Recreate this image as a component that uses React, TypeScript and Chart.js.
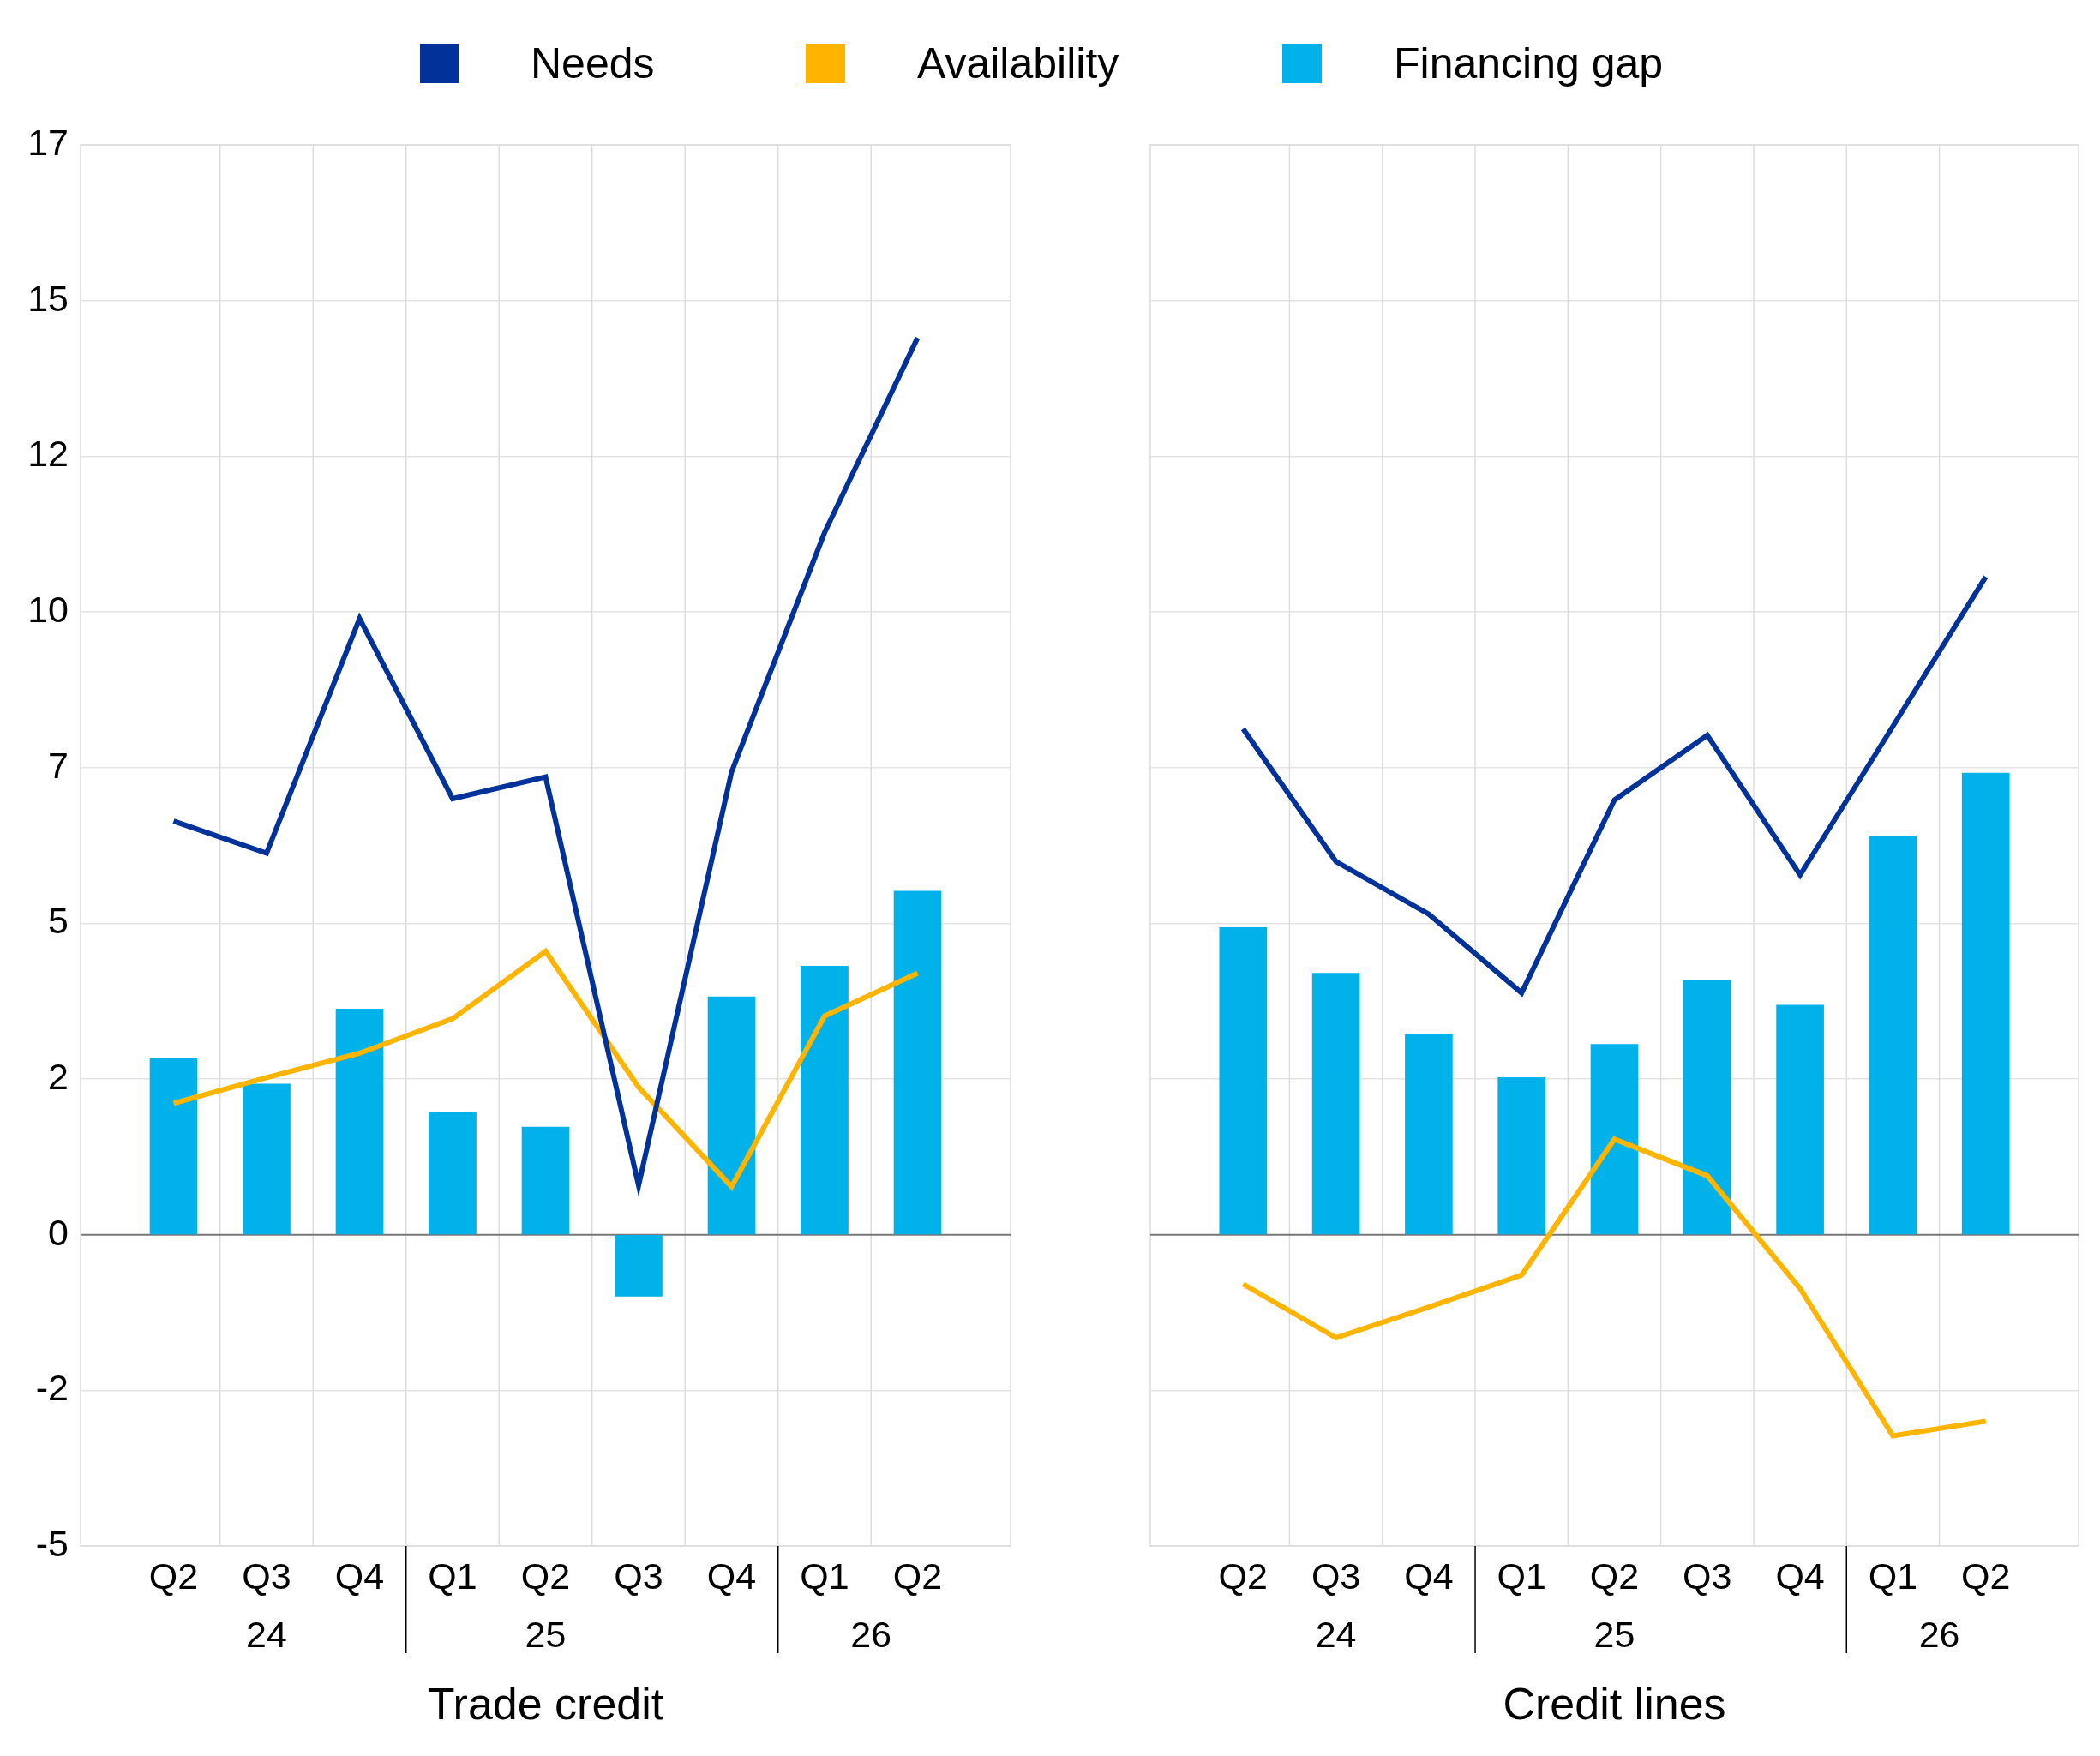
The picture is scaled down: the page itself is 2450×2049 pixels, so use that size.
import React, { useEffect, useRef } from "react";
import { Chart, registerables } from "chart.js";
Chart.register(...registerables);

const quarters = ["Q2", "Q3", "Q4", "Q1", "Q2", "Q3", "Q4", "Q1", "Q2"];
const years = [
  { label: "24", pos: 2 },
  { label: "25", pos: 5 },
  { label: "26", pos: 8.5 },
];
const dividers = [3.5, 7.5];

const tradeNeeds = [6.45, 5.95, 9.61, 6.8, 7.14, 0.77, 7.22, 10.95, 13.99];
const tradeAvail = [2.05, 2.45, 2.83, 3.37, 4.42, 2.3, 0.75, 3.41, 4.08];
const tradeGap = [2.76, 2.35, 3.52, 1.91, 1.68, -0.96, 3.71, 4.19, 5.36];

const lineNeeds = [7.89, 5.82, 5.0, 3.77, 6.78, 7.79, 5.61, 7.93, 10.26];
const lineAvail = [-0.77, -1.61, -1.13, -0.63, 1.49, 0.92, -0.84, -3.14, -2.91];
const lineGap = [4.79, 4.08, 3.12, 2.45, 2.97, 3.96, 3.58, 6.22, 7.2];

const C_NEEDS = "#003299";
const C_AVAIL = "#FFB400";
const C_GAP = "#00B1EA";
const FONT = "'Liberation Sans', Arial, sans-serif";
const STEP = 17 / 7;

function pts(vals: number[]) {
  return vals.map((v, i) => ({ x: i + 1, y: v }));
}

function makeChart(canvas: HTMLCanvasElement, title: string, needs: number[], avail: number[], gap: number[], showY: boolean, yWidth: number, padRight: number) {
  const deco = {
    id: "deco",
    beforeDatasetsDraw(chart: any) {
      const { ctx, chartArea: a, scales } = chart;
      const x = scales.x;
      ctx.save();
      ctx.strokeStyle = "#dddddd";
      ctx.lineWidth = 1.5;
      for (let g = 1.5; g <= 8.5; g += 1) {
        const px = x.getPixelForValue(g);
        ctx.beginPath();
        ctx.moveTo(px, a.top);
        ctx.lineTo(px, a.bottom);
        ctx.stroke();
      }
      ctx.strokeRect(a.left, a.top, a.right - a.left, a.bottom - a.top);
      const y0 = scales.y.getPixelForValue(0);
      ctx.strokeStyle = "#777777";
      ctx.lineWidth = 2;
      ctx.beginPath();
      ctx.moveTo(a.left, y0);
      ctx.lineTo(a.right, y0);
      ctx.stroke();
      ctx.restore();
    },
    afterDraw(chart: any) {
      const { ctx, chartArea: a, scales } = chart;
      const x = scales.x;
      ctx.save();
      ctx.strokeStyle = "#000";
      ctx.lineWidth = 1.5;
      dividers.forEach((d) => {
        const px = x.getPixelForValue(d);
        ctx.beginPath();
        ctx.moveTo(px, a.bottom);
        ctx.lineTo(px, 1929);
        ctx.stroke();
      });
      ctx.fillStyle = "#000";
      ctx.textAlign = "center";
      ctx.textBaseline = "middle";
      ctx.font = `43px ${FONT}`;
      years.forEach((yr) => ctx.fillText(yr.label, x.getPixelForValue(yr.pos), 1910));
      ctx.font = `52px ${FONT}`;
      ctx.fillText(title, x.getPixelForValue(5), 1992);
      ctx.restore();
    },
  };
  return new Chart(canvas, {
    type: "bar",
    data: {
      datasets: [
        { type: "line", label: "Needs", data: pts(needs), borderColor: C_NEEDS, borderWidth: 6, pointRadius: 0, tension: 0, order: 1 } as any,
        { type: "line", label: "Availability", data: pts(avail), borderColor: C_AVAIL, borderWidth: 6, pointRadius: 0, tension: 0, order: 2 } as any,
        { type: "bar", label: "Financing gap", data: pts(gap), backgroundColor: C_GAP, barThickness: 55, order: 3 } as any,
      ],
    },
    options: {
      animation: false,
      responsive: false,
      maintainAspectRatio: false,
      layout: { padding: { top: 169, right: padRight, left: 0, bottom: 0 } },
      plugins: { legend: { display: false }, tooltip: { enabled: false } },
      scales: {
        x: {
          type: "linear",
          min: 0,
          max: 10,
          offset: false,
          grid: { display: false, drawTicks: false, offset: false },
          border: { display: false },
          afterBuildTicks: (s: any) => { s.ticks = quarters.map((_, i) => ({ value: i + 1 })); },
          afterFit: (s: any) => { s.height = 2049 - 1804; },
          ticks: {
            padding: 12,
            color: "#000",
            font: { family: FONT, size: 43 },
            callback: (v: any) => quarters[Math.round(v) - 1] ?? "",
            maxRotation: 0,
            autoSkip: false,
          },
        },
        y: {
          min: -2 * STEP,
          max: 17,
          grid: { color: (c: any) => (Math.abs(c.tick?.value) < 1e-6 ? "rgba(0,0,0,0)" : "#e4e4e4"), lineWidth: 1.5, drawTicks: false },
          border: { display: false },
          afterBuildTicks: (s: any) => {
            const t = [];
            for (let k = -2; k <= 7; k++) t.push({ value: k * STEP });
            s.ticks = t;
          },
          afterFit: (s: any) => { s.width = yWidth; },
          ticks: {
            display: showY,
            padding: 14,
            color: "#000",
            font: { family: FONT, size: 43 },
            callback: (v: any) => String(Math.round(v)),
          },
        },
      },
    },
    plugins: [deco],
  } as any);
}

export default function App() {
  const leftRef = useRef<HTMLCanvasElement>(null);
  const rightRef = useRef<HTMLCanvasElement>(null);
  useEffect(() => {
    document.body.style.margin = "0";
    const a = makeChart(leftRef.current!, "Trade credit", tradeNeeds, tradeAvail, tradeGap, true, 94, 46);
    const b = makeChart(rightRef.current!, "Credit lines", lineNeeds, lineAvail, lineGap, false, 117, 25);
    return () => { a.destroy(); b.destroy(); };
  }, []);
  const legend = [
    { label: "Needs", color: C_NEEDS, sq: 490, tx: 619 },
    { label: "Availability", color: C_AVAIL, sq: 940, tx: 1070 },
    { label: "Financing gap", color: C_GAP, sq: 1496, tx: 1626 },
  ];
  return (
    <div style={{ position: "relative", width: 2450, height: 2049, background: "#fff", fontFamily: FONT }}>
      <canvas ref={leftRef} width={1225} height={2049} style={{ position: "absolute", left: 0, top: 0, width: 1225, height: 2049 }} />
      <canvas ref={rightRef} width={1225} height={2049} style={{ position: "absolute", left: 1225, top: 0, width: 1225, height: 2049 }} />
      {legend.map((l) => (
        <React.Fragment key={l.label}>
          <div style={{ position: "absolute", left: l.sq, top: 51, width: 46, height: 46, background: l.color }} />
          <div style={{ position: "absolute", left: l.tx, top: 44, fontSize: 50, lineHeight: "60px", color: "#000" }}>{l.label}</div>
        </React.Fragment>
      ))}
    </div>
  );
}
